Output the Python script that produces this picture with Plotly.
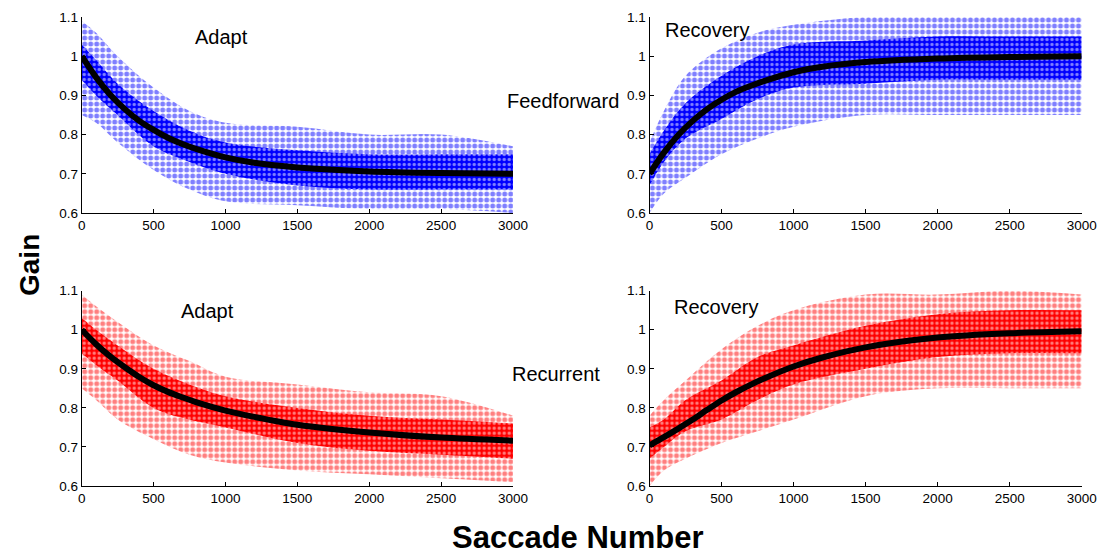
import plotly.graph_objects as go

W, H = 1105, 556

# ---------------- data ----------------
saccades = [0, 100, 200, 300, 400, 500, 600, 700, 800, 1000, 1200, 1500, 2000, 2500, 3000]

ff_adapt_fit    = [1.000, 0.946, 0.901, 0.865, 0.835, 0.812, 0.792, 0.776, 0.763, 0.742, 0.728, 0.716, 0.706, 0.702, 0.700]
ff_recovery_fit = [0.700, 0.754, 0.799, 0.835, 0.865, 0.889, 0.909, 0.924, 0.937, 0.959, 0.973, 0.985, 0.994, 0.998, 1.000]
rc_adapt_fit    = [1.000, 0.963, 0.931, 0.904, 0.879, 0.858, 0.841, 0.827, 0.814, 0.793, 0.777, 0.757, 0.737, 0.724, 0.716]
rc_recovery_fit = [0.704, 0.725, 0.747, 0.770, 0.795, 0.819, 0.840, 0.859, 0.876, 0.906, 0.929, 0.955, 0.980, 0.991, 0.996]

band_x = [0, 100, 250, 500, 750, 1000, 1500, 2000, 2500, 3000]

ff_adapt_outer_hi = [1.09, 1.06, 1.00, 0.92, 0.86, 0.83, 0.82, 0.80, 0.80, 0.77]
ff_adapt_inner_hi = [1.03, 0.99, 0.93, 0.86, 0.81, 0.78, 0.76, 0.75, 0.75, 0.75]
ff_adapt_inner_lo = [0.94, 0.90, 0.85, 0.77, 0.73, 0.70, 0.67, 0.66, 0.66, 0.66]
ff_adapt_outer_lo = [0.85, 0.83, 0.78, 0.71, 0.66, 0.63, 0.62, 0.61, 0.61, 0.60]

ff_rec_outer_hi = [0.78, 0.86, 0.95, 1.02, 1.06, 1.08, 1.10, 1.10, 1.10, 1.10]
ff_rec_inner_hi = [0.75, 0.81, 0.88, 0.95, 1.00, 1.03, 1.04, 1.05, 1.05, 1.05]
ff_rec_inner_lo = [0.67, 0.73, 0.79, 0.84, 0.89, 0.92, 0.93, 0.94, 0.94, 0.94]
ff_rec_outer_lo = [0.60, 0.65, 0.69, 0.75, 0.79, 0.82, 0.85, 0.85, 0.85, 0.85]

rc_adapt_outer_hi = [1.09, 1.06, 1.02, 0.96, 0.92, 0.88, 0.86, 0.84, 0.83, 0.78]
rc_adapt_inner_hi = [1.03, 1.00, 0.96, 0.90, 0.86, 0.83, 0.80, 0.78, 0.77, 0.76]
rc_adapt_inner_lo = [0.94, 0.91, 0.87, 0.80, 0.77, 0.75, 0.71, 0.69, 0.68, 0.67]
rc_adapt_outer_lo = [0.85, 0.82, 0.77, 0.72, 0.68, 0.66, 0.64, 0.63, 0.62, 0.61]

rc_rec_outer_hi = [0.78, 0.82, 0.87, 0.95, 1.01, 1.05, 1.09, 1.09, 1.10, 1.09]
rc_rec_inner_hi = [0.75, 0.77, 0.82, 0.87, 0.93, 0.96, 1.01, 1.04, 1.05, 1.05]
rc_rec_inner_lo = [0.67, 0.70, 0.74, 0.77, 0.82, 0.86, 0.90, 0.93, 0.94, 0.94]
rc_rec_outer_lo = [0.60, 0.64, 0.67, 0.71, 0.74, 0.77, 0.83, 0.85, 0.85, 0.85]

x_ticks = [0, 500, 1000, 1500, 2000, 2500, 3000]
y_ticks = [0.6, 0.7, 0.8, 0.9, 1.0, 1.1]
y_tick_labels = ["0.6", "0.7", "0.8", "0.9", "1", "1.1"]

panel_titles = ["Adapt", "Recovery", "Adapt", "Recovery"]
row_labels = ["Feedforward", "Recurrent"]

BLUE = "#0000FF"
RED = "#FF0000"
FONT = "Liberation Sans, Arial, Helvetica, sans-serif"

panels = [
    (ff_adapt_fit, ff_adapt_outer_lo, ff_adapt_outer_hi, ff_adapt_inner_lo, ff_adapt_inner_hi, BLUE),
    (ff_recovery_fit, ff_rec_outer_lo, ff_rec_outer_hi, ff_rec_inner_lo, ff_rec_inner_hi, BLUE),
    (rc_adapt_fit, rc_adapt_outer_lo, rc_adapt_outer_hi, rc_adapt_inner_lo, rc_adapt_inner_hi, RED),
    (rc_recovery_fit, rc_rec_outer_lo, rc_rec_outer_hi, rc_rec_inner_lo, rc_rec_inner_hi, RED),
]

# ---------------- layout geometry (pixels) ----------------
def px_x(p):
    return p / W

def px_y(p):
    return 1 - p / H

x_domains = [(81.7, 513.0), (649.5, 1081.7), (81.7, 513.0), (649.5, 1081.7)]
y_domains = [(17.0, 213.0), (17.0, 213.0), (290.7, 486.0), (290.7, 486.0)]

fig = go.Figure()

for i, (fit, olo, ohi, ilo, ihi, col) in enumerate(panels):
    xa = "x" if i == 0 else f"x{i+1}"
    ya = "y" if i == 0 else f"y{i+1}"
    common = dict(xaxis=xa, yaxis=ya, showlegend=False, hoverinfo="skip", mode="lines",
                  line=dict(width=0, shape="spline", smoothing=1.0))
    # outer sparse cloud
    fig.add_trace(go.Scatter(x=band_x, y=olo, **common))
    fig.add_trace(go.Scatter(x=band_x, y=ohi, fill="tonexty",
                             fillpattern=dict(shape=".", fgcolor=col, bgcolor="rgba(255,255,255,0)",
                                              size=6, solidity=0.55),
                             **common))
    # dense core
    fig.add_trace(go.Scatter(x=band_x, y=ilo, **common))
    fig.add_trace(go.Scatter(x=band_x, y=ihi, fill="tonexty",
                             fillpattern=dict(shape=".", fgcolor="white", bgcolor=col,
                                              size=5, solidity=0.35),
                             **common))
    # fitted curve
    fig.add_trace(go.Scatter(x=saccades, y=fit, xaxis=xa, yaxis=ya, mode="lines",
                             line=dict(color="black", width=6, shape="spline", smoothing=0.8),
                             showlegend=False, hoverinfo="skip"))

axis_common = dict(showline=True, linecolor="black", linewidth=1, ticks="inside", ticklen=4,
                   tickcolor="black", showgrid=False, zeroline=False, automargin=False,
                   tickfont=dict(family=FONT, size=13.5, color="black"))

layout_axes = {}
for i in range(4):
    xk = "xaxis" if i == 0 else f"xaxis{i+1}"
    yk = "yaxis" if i == 0 else f"yaxis{i+1}"
    xs = "x" if i == 0 else f"x{i+1}"
    ys = "y" if i == 0 else f"y{i+1}"
    x0, x1 = x_domains[i]
    yt, yb = y_domains[i]
    layout_axes[xk] = dict(domain=[px_x(x0), px_x(x1)], range=[0, 3000], anchor=ys,
                           tickvals=x_ticks, ticktext=[str(v) for v in x_ticks], **axis_common)
    layout_axes[yk] = dict(domain=[px_y(yb), px_y(yt)], range=[0.6, 1.1], anchor=xs,
                           tickvals=y_ticks, ticktext=y_tick_labels, **axis_common)

annotations = []
def add_text(text, cx, cy, size, bold=False, angle=0):
    annotations.append(dict(text=f"<b>{text}</b>" if bold else text,
                            x=px_x(cx), y=px_y(cy), xref="paper", yref="paper",
                            xanchor="center", yanchor="middle", showarrow=False, textangle=angle,
                            font=dict(family=FONT, size=size, color="black")))

title_pos = [(221, 37), (707, 30), (207, 311), (716, 307)]
for t, (cx, cy) in zip(panel_titles, title_pos):
    add_text(t, cx, cy, 20)
add_text(row_labels[0], 563, 101, 20)
add_text(row_labels[1], 556, 374, 20)
add_text("Gain", 30, 265, 28, bold=True, angle=-90)
add_text("Saccade Number", 578, 537, 31, bold=True)

fig.update_layout(width=W, height=H, margin=dict(l=0, r=0, t=0, b=0),
                  paper_bgcolor="white", plot_bgcolor="white",
                  annotations=annotations, **layout_axes)

fig.write_html("out.html")
